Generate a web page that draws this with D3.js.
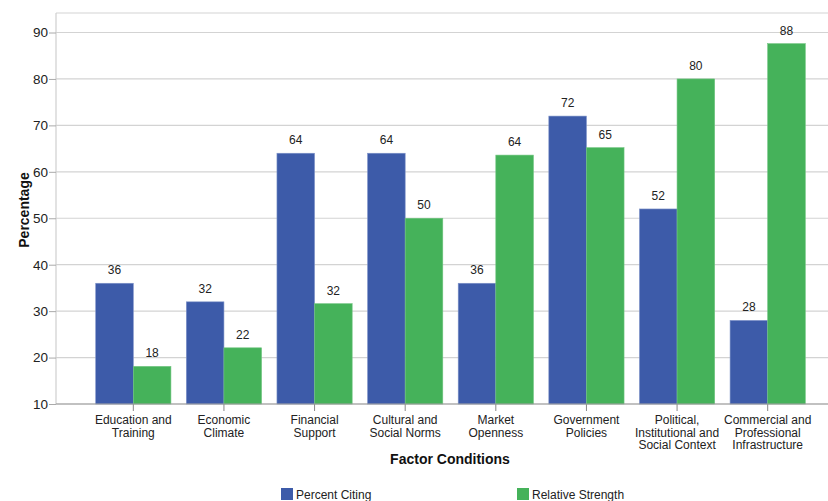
<!DOCTYPE html>
<html><head><meta charset="utf-8">
<script src="https://cdn.jsdelivr.net/npm/d3@7"></script>
<style>body{margin:0;background:#fff;} text{font-family:"Liberation Sans",Arial,sans-serif;}</style>
</head><body>
<svg id="c" width="828" height="501"></svg>
<script>
const categories = [
  ["Education and","Training"],
  ["Economic","Climate"],
  ["Financial","Support"],
  ["Cultural and","Social Norms"],
  ["Market","Openness"],
  ["Government","Policies"],
  ["Political,","Institutional and","Social Context"],
  ["Commercial and","Professional","Infrastructure"]
];
const percentCiting = [36, 32, 64, 64, 36, 72, 52, 28];
const relativeStrength = [18.1, 22.1, 31.6, 50, 63.6, 65.2, 80, 87.6];
const yTicks = [10, 20, 30, 40, 50, 60, 70, 80, 90];
const seriesNames = ["Percent Citing", "Relative Strength"];
const colors = ["#3d5ba9", "#45b25a"];

const svg = d3.select("#c");
const plotL = 56, plotR = 828, plotT = 13, plotB = 404;
const keys = categories.map(c => c.join(" "));
const x = d3.scaleBand().domain(keys).range([88, 813]).paddingInner(0).paddingOuter(0);
const x1 = d3.scaleBand().domain([0,1]).range([x.step()*0.085, x.step()*0.915]).padding(0);
const y = d3.scaleLinear().domain([10, 94.2]).range([plotB, plotT]);

// gridlines
svg.append("g").selectAll("line").data(yTicks).join("line")
  .attr("x1", plotL).attr("x2", plotR)
  .attr("y1", d => y(d)).attr("y2", d => y(d))
  .attr("stroke", "#d3d3d3").attr("stroke-width", 1.2);
// top frame & left
svg.append("line").attr("x1", plotL).attr("x2", plotR).attr("y1", plotT).attr("y2", plotT).attr("stroke", "#d3d3d3").attr("stroke-width",1.2);
svg.append("line").attr("x1", plotL).attr("x2", plotL).attr("y1", plotT).attr("y2", plotB).attr("stroke", "#cfcfcf").attr("stroke-width",1.2);

// y axis
const yAxis = d3.axisLeft(y).tickValues(yTicks).tickSize(7).tickPadding(1);
const gy = svg.append("g").attr("transform", `translate(${plotL},0)`).call(yAxis);
gy.select(".domain").remove();
gy.selectAll(".tick line").attr("stroke", "#aaa");
gy.selectAll(".tick text").attr("font-size", 13.5).attr("fill", "#222");

// bars
const data = keys.map((k, i) => ({k, vals: [percentCiting[i], relativeStrength[i]]}));
const groups = svg.append("g").selectAll("g").data(data).join("g")
  .attr("transform", d => `translate(${x(d.k)},0)`);
groups.selectAll("rect").data(d => d.vals.map((v, j) => ({v, j}))).join("rect")
  .attr("x", d => x1(d.j)).attr("width", x1.bandwidth())
  .attr("y", d => y(d.v)).attr("height", d => plotB - y(d.v))
  .attr("fill", d => colors[d.j])
  .attr("stroke", d => d.j === 0 ? "#7d92c8" : "#6fc47f").attr("stroke-width", 0.6);
groups.selectAll("text").data(d => d.vals.map((v, j) => ({v, j}))).join("text")
  .attr("x", d => x1(d.j) + x1.bandwidth()/2).attr("y", d => y(d.v) - 9)
  .attr("text-anchor", "middle").attr("font-size", 12).attr("fill", "#222")
  .text(d => Math.round(d.v));

// x axis
const xAxis = d3.axisBottom(x).tickSize(7).tickFormat("");
const gx = svg.append("g").attr("transform", `translate(0,${plotB})`).call(xAxis);
gx.select(".domain").remove();
gx.selectAll(".tick line").attr("stroke", "#888");
svg.append("line").attr("x1", plotL).attr("x2", plotR).attr("y1", plotB).attr("y2", plotB).attr("stroke", "#999").attr("stroke-width", 1.2);
const lbl = svg.append("g").selectAll("text").data(categories).join("text")
  .attr("x", (d, i) => x(keys[i]) + x.bandwidth()/2)
  .attr("y", 424).attr("text-anchor", "middle").attr("font-size", 12).attr("fill", "#222");
lbl.selectAll("tspan").data(d => d).join("tspan")
  .attr("x", function(){ return d3.select(this.parentNode).attr("x"); })
  .attr("dy", (d, i) => i === 0 ? 0 : 12.5).text(d => d);

// axis titles
svg.append("text").attr("x", 450).attr("y", 464).attr("text-anchor", "middle")
  .attr("font-size", 14).attr("font-weight", "bold").attr("fill", "#111").text("Factor Conditions");
svg.append("text").attr("transform", "translate(29,210) rotate(-90)").attr("text-anchor", "middle")
  .attr("font-size", 14).attr("font-weight", "bold").attr("fill", "#111").text("Percentage");

// legend
const legX = [281, 517];
const leg = svg.append("g").selectAll("g").data(seriesNames).join("g")
  .attr("transform", (d, i) => `translate(${legX[i]},488)`);
leg.append("rect").attr("width", 12).attr("height", 12).attr("fill", (d, i) => colors[i]);
leg.append("text").attr("x", 15).attr("y", 11).attr("font-size", 12).attr("fill", "#222").text(d => d);
</script>
</body></html>
